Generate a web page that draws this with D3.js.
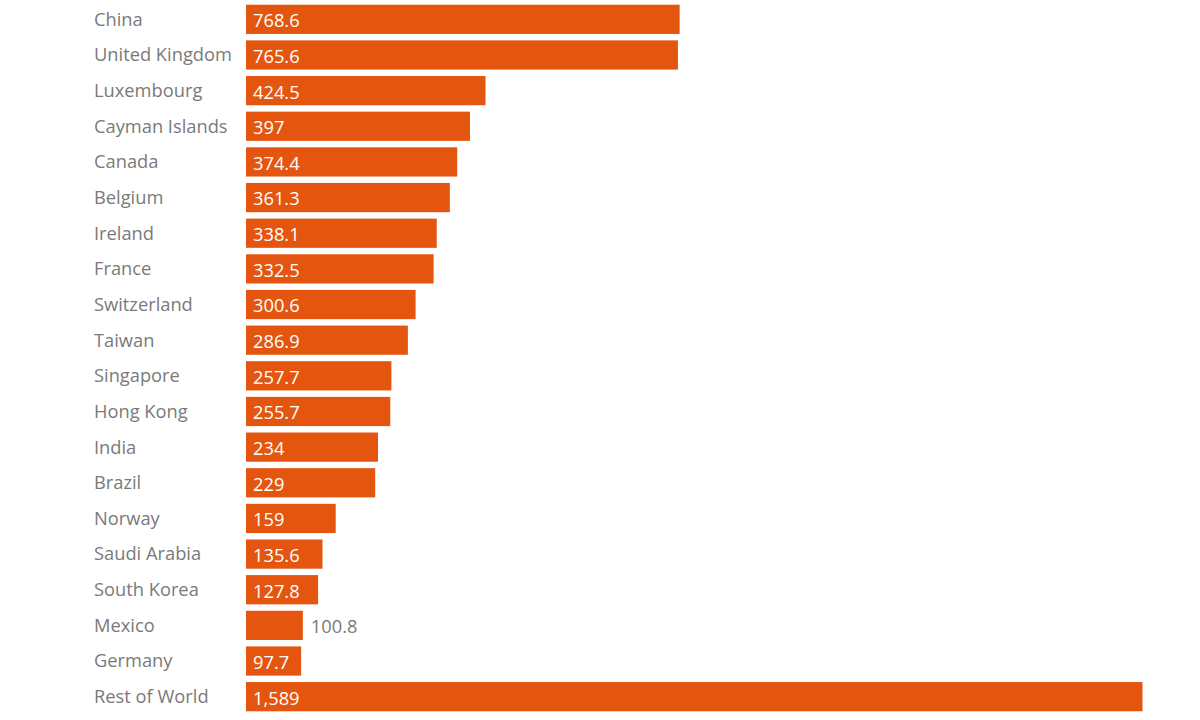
<!DOCTYPE html>
<html><head><meta charset="utf-8">
<script src="https://cdn.jsdelivr.net/npm/d3@7"></script>
<style>body{margin:0;background:#fff;}svg{display:block;}</style>
</head><body>
<svg id="chart" width="1200" height="720"></svg>
<script>
const countries = ["China","United Kingdom","Luxembourg","Cayman Islands","Canada","Belgium","Ireland","France","Switzerland","Taiwan","Singapore","Hong Kong","India","Brazil","Norway","Saudi Arabia","South Korea","Mexico","Germany","Rest of World"];
const values = [768.6,765.6,424.5,397,374.4,361.3,338.1,332.5,300.6,286.9,257.7,255.7,234,229,159,135.6,127.8,100.8,97.7,1589];
const valueLabels = ["768.6","765.6","424.5","397","374.4","361.3","338.1","332.5","300.6","286.9","257.7","255.7","234","229","159","135.6","127.8","100.8","97.7","1,589"];
const outsideLabels = ["Mexico"];

const data = countries.map((c,i)=>({c, v: values[i], l: valueLabels[i]}));
const svg = d3.select("#chart");
const x0 = 246;
const x = d3.scaleLinear().domain([0,1589]).range([x0,1142.5]);
const y = d3.scaleBand().domain(countries).range([1.5,714.5]).paddingInner(0.18).paddingOuter(0.09);
const orange = "#e4560f", grey = "#7a7a7a";
const font = "'Open Sans', sans-serif";

const g = svg.append("g");
g.selectAll("rect").data(data).join("rect")
  .attr("x", x0).attr("y", d=>y(d.c))
  .attr("width", d=>x(d.v)-x0).attr("height", y.bandwidth())
  .attr("fill", orange);

g.selectAll("text.name").data(data).join("text").attr("class","name")
  .attr("x", 94).attr("y", d=>y(d.c)+y.bandwidth()/2)
  .attr("dy","0.35em").attr("fill", grey)
  .style("font-family", font).style("font-size","18.3px")
  .text(d=>d.c);

g.selectAll("text.val").data(data).join("text").attr("class","val")
  .attr("x", d=> outsideLabels.includes(d.c) ? x(d.v)+8 : x0+7)
  .attr("y", d=>y(d.c)+y.bandwidth()/2+1.5)
  .attr("dy","0.35em")
  .attr("fill", d=> outsideLabels.includes(d.c) ? grey : "#fff")
  .style("font-family", font).style("font-size","18.3px")
  .text(d=>d.l);
</script>
</body></html>
